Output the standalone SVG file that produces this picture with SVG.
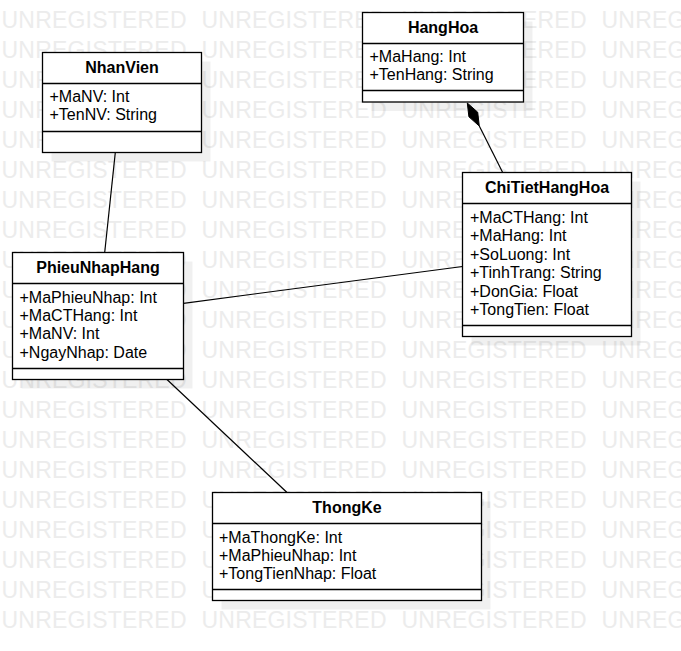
<svg xmlns="http://www.w3.org/2000/svg" xmlns:xlink="http://www.w3.org/1999/xlink" width="681" height="651" viewBox="0 0 681 651">
<style>
.wm{font-family:"Liberation Sans",Arial,sans-serif;font-size:23px;fill:#ececec}
.box{fill:#fff;stroke:#000;stroke-width:1.3}
.shadow{fill:#000;fill-opacity:0.06}
.div{stroke:#000;stroke-width:1.3}
.title{font-family:"Liberation Sans",Arial,sans-serif;font-size:16px;font-weight:bold;fill:#000;text-anchor:middle}
.attr{font-family:"Liberation Sans",Arial,sans-serif;font-size:16px;fill:#000}
.conn{stroke:#000;stroke-width:1.2;fill:none}
</style>
<defs>
<g id="wmrow">
<text class="wm" x="1.5" y="0" textLength="185" lengthAdjust="spacing">UNREGISTERED</text>
<text class="wm" x="201.5" y="0" textLength="185" lengthAdjust="spacing">UNREGISTERED</text>
<text class="wm" x="401.5" y="0" textLength="185" lengthAdjust="spacing">UNREGISTERED</text>
<text class="wm" x="601.5" y="0" textLength="185" lengthAdjust="spacing">UNREGISTERED</text>
</g>
</defs>
<rect x="0" y="0" width="681" height="651" fill="#fff"/>
<g id="watermark">
<use xlink:href="#wmrow" y="28"/><use xlink:href="#wmrow" y="58"/><use xlink:href="#wmrow" y="88"/>
<use xlink:href="#wmrow" y="118"/><use xlink:href="#wmrow" y="148"/><use xlink:href="#wmrow" y="178"/>
<use xlink:href="#wmrow" y="208"/><use xlink:href="#wmrow" y="238"/><use xlink:href="#wmrow" y="268"/>
<use xlink:href="#wmrow" y="298"/><use xlink:href="#wmrow" y="328"/><use xlink:href="#wmrow" y="358"/>
<use xlink:href="#wmrow" y="388"/><use xlink:href="#wmrow" y="418"/><use xlink:href="#wmrow" y="448"/>
<use xlink:href="#wmrow" y="478"/><use xlink:href="#wmrow" y="508"/><use xlink:href="#wmrow" y="538"/>
<use xlink:href="#wmrow" y="568"/><use xlink:href="#wmrow" y="598"/><use xlink:href="#wmrow" y="628"/>
</g>
<g id="connectors">
<line class="conn" x1="115.3" y1="152.5" x2="104.7" y2="252.5"/>
<line class="conn" x1="183.5" y1="303.3" x2="462.5" y2="266.5"/>
<line class="conn" x1="167" y1="379.5" x2="287" y2="492.5"/>
<line class="conn" x1="479.3" y1="126.1" x2="502.7" y2="172.5"/>
<polygon points="467.3,103 468.9,116.8 479.3,126.1 477.7,112.2" fill="#000" stroke="#000" stroke-width="1"/>
</g>
<g id="NhanVien">
<rect class="shadow" x="51.5" y="61.5" width="159" height="100"/>
<rect class="box" x="42.5" y="52.5" width="159" height="100"/>
<line class="div" x1="42.5" y1="83.5" x2="201.5" y2="83.5"/>
<line class="div" x1="42.5" y1="131.5" x2="201.5" y2="131.5"/>
<text class="title" x="122" y="73">NhanVien</text>
<text class="attr" x="49.5" y="102">+MaNV: Int</text>
<text class="attr" x="49.5" y="120.4">+TenNV: String</text>
</g>
<g id="HangHoa">
<rect class="shadow" x="371.5" y="21.5" width="161" height="89.5"/>
<rect class="box" x="362.5" y="12.5" width="161" height="89.5"/>
<line class="div" x1="362.5" y1="43.5" x2="523.5" y2="43.5"/>
<line class="div" x1="362.5" y1="90.5" x2="523.5" y2="90.5"/>
<text class="title" x="443" y="32.5">HangHoa</text>
<text class="attr" x="369.5" y="61.5">+MaHang: Int</text>
<text class="attr" x="369.5" y="80">+TenHang: String</text>
</g>
<g id="ChiTietHangHoa">
<rect class="shadow" x="471.5" y="181.5" width="169" height="164"/>
<rect class="box" x="462.5" y="172.5" width="169" height="164"/>
<line class="div" x1="462.5" y1="203.5" x2="631.5" y2="203.5"/>
<line class="div" x1="462.5" y1="325.5" x2="631.5" y2="325.5"/>
<text class="title" x="547" y="192.5">ChiTietHangHoa</text>
<text class="attr" x="470" y="223">+MaCTHang: Int</text>
<text class="attr" x="470" y="241.4">+MaHang: Int</text>
<text class="attr" x="470" y="259.8">+SoLuong: Int</text>
<text class="attr" x="470" y="278.2">+TinhTrang: String</text>
<text class="attr" x="470" y="296.6">+DonGia: Float</text>
<text class="attr" x="470" y="315">+TongTien: Float</text>
</g>
<g id="PhieuNhapHang">
<rect class="shadow" x="21.5" y="261.5" width="171" height="127"/>
<rect class="box" x="12.5" y="252.5" width="171" height="127"/>
<line class="div" x1="12.5" y1="283.5" x2="183.5" y2="283.5"/>
<line class="div" x1="12.5" y1="368.5" x2="183.5" y2="368.5"/>
<text class="title" x="98" y="273">PhieuNhapHang</text>
<text class="attr" x="19.5" y="302.5">+MaPhieuNhap: Int</text>
<text class="attr" x="19.5" y="320.9">+MaCTHang: Int</text>
<text class="attr" x="19.5" y="339.3">+MaNV: Int</text>
<text class="attr" x="19.5" y="357.7">+NgayNhap: Date</text>
</g>
<g id="ThongKe">
<rect class="shadow" x="221.5" y="501.5" width="269" height="108"/>
<rect class="box" x="212.5" y="492.5" width="269" height="108"/>
<line class="div" x1="212.5" y1="523.5" x2="481.5" y2="523.5"/>
<line class="div" x1="212.5" y1="589.5" x2="481.5" y2="589.5"/>
<text class="title" x="347" y="512.5">ThongKe</text>
<text class="attr" x="219" y="542.7">+MaThongKe: Int</text>
<text class="attr" x="219" y="561">+MaPhieuNhap: Int</text>
<text class="attr" x="219" y="579.4">+TongTienNhap: Float</text>
</g>
</svg>
